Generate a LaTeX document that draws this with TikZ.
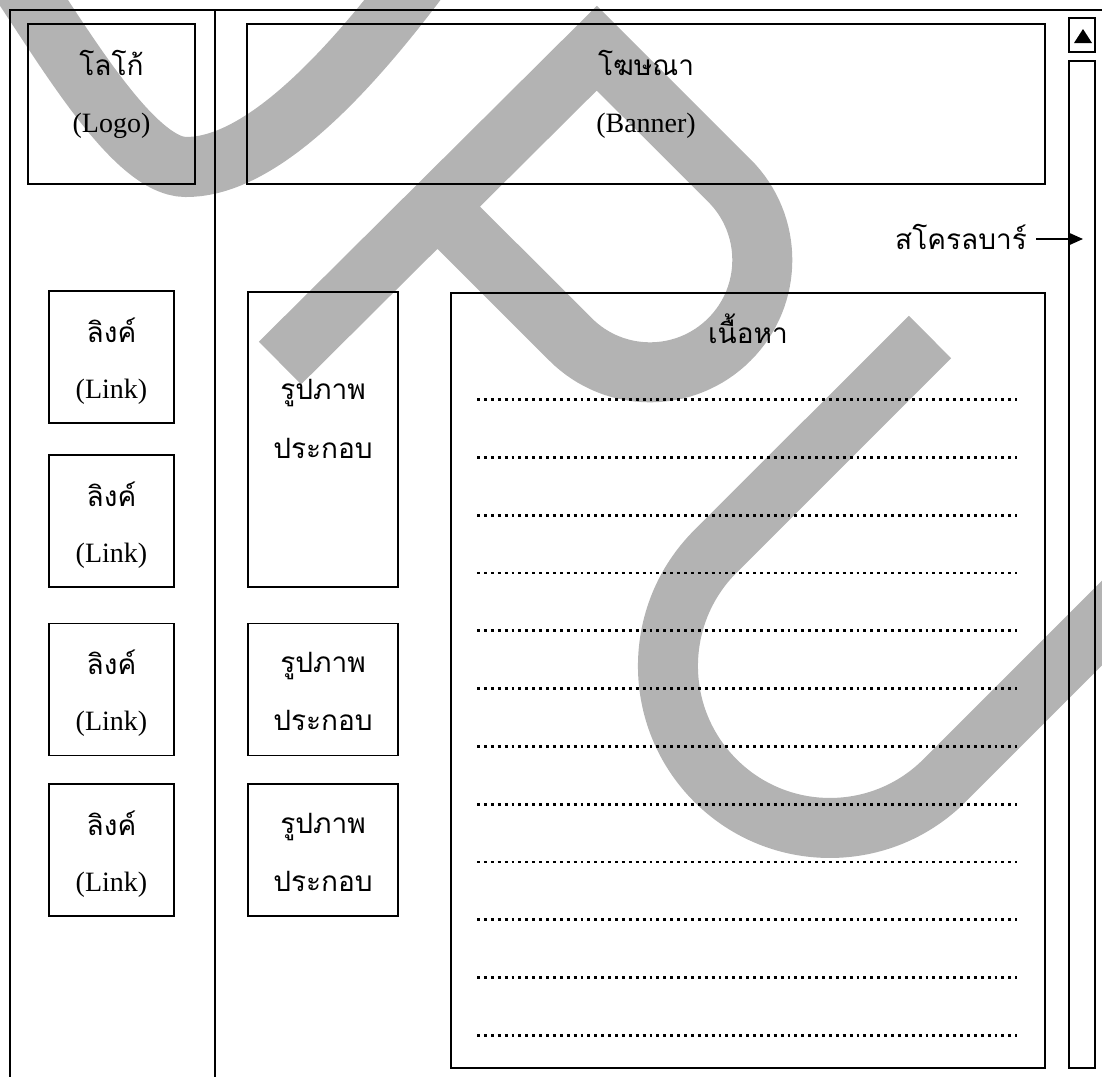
\documentclass[tikz,border=0pt]{standalone}
\usepackage{fontspec}
\setmainfont{Liberation Serif}
\newfontfamily\thaifont[Script=Thai]{Loma}
\usetikzlibrary{arrows.meta}
\definecolor{wm}{RGB}{179,179,179}
\tikzset{
  box/.style={draw, line width=1.7pt, inner sep=0pt},
  frameline/.style={line width=1.7pt},
  thtext/.style={anchor=base, inner sep=0pt, font=\thaifont\fontsize{28}{34}\selectfont},
  entext/.style={anchor=base, inner sep=0pt, font=\fontsize{28}{34}\selectfont},
  dotline/.style={line width=2.9pt, line cap=butt, dash pattern=on 2.9pt off 4pt},
  wmstroke/.style={draw=wm, line width=60pt, line cap=butt, line join=miter}
}
\begin{document}
\begin{tikzpicture}[x=1pt,y=-1pt]
\useasboundingbox (0,0) rectangle (1102,1077);
% watermark (SPU)
\draw[wmstroke] (5,-40) .. controls (55,30) and (130,167) .. (186,167) .. controls (245,167) and (325,110) .. (440,-50);
\draw[wmstroke] (280,363) -- (596.8,48.2) -- (729.4,180.6) arc[start angle=-45,end angle=135,radius=112.3] -- (438,207);
\draw[wmstroke] (930,337) -- (715.4,551.4) arc[start angle=225,end angle=45,radius=162] -- (1180,545);
% page frame
\coordinate (ftl) at (10,10);
\coordinate (ftr) at (1102,10);
\coordinate (fbl) at (10,1077);
\coordinate (dtop) at (215,10);
\coordinate (dbot) at (215,1077);
\draw[frameline] (ftr) -- (ftl) -- (fbl);
\draw[frameline] (dtop) -- (dbot);
% boxes
\node[box, minimum width=167pt, minimum height=160pt] (logo) at (111.5,104) {};
\node[box, minimum width=798pt, minimum height=160pt] (banner) at (646,104) {};
\node[box, minimum width=125pt, minimum height=132pt] (link1) at (111.5,357) {};
\node[box, minimum width=125pt, minimum height=132pt] (link2) at (111.5,521) {};
\node[box, minimum width=125pt, minimum height=132pt] (link3) at (111.5,689.5) {};
\node[box, minimum width=125pt, minimum height=132pt] (link4) at (111.5,850) {};
\node[box, minimum width=150pt, minimum height=295pt] (img1) at (323,439.5) {};
\node[box, minimum width=150pt, minimum height=132pt] (img2) at (323,689.5) {};
\node[box, minimum width=150pt, minimum height=132pt] (img3) at (323,850) {};
\node[box, minimum width=594pt, minimum height=775pt] (content) at (748,680.5) {};
\node[box, minimum width=26pt, minimum height=34pt] (scrollup) at (1082,35) {};
\node[box, minimum width=26pt, minimum height=1007pt] (track) at (1082,564.5) {};
\fill (1074,43) -- (1092,43) -- (1083,29) -- cycle;
% texts
\node[thtext] (logoT) at (111.5,75) {โลโก้};
\node[entext] (logoE) at (111.5,132) {(Logo)};
\node[thtext] (banT) at (646,75) {โฆษณา};
\node[entext] (banE) at (646,132) {(Banner)};
\foreach \n/\t in {1/291,2/455,3/623.5,4/784}{
  \node[thtext] (link\n T) at (111.5,\t+51) {ลิงค์};
  \node[entext] (link\n E) at (111.5,\t+107) {(Link)};
}
\node[thtext] (img1a) at (323,399) {รูปภาพ};
\node[thtext] (img1b) at (323,458) {ประกอบ};
\node[thtext] (img2a) at (323,672.5) {รูปภาพ};
\node[thtext] (img2b) at (323,730.5) {ประกอบ};
\node[thtext] (img3a) at (323,833) {รูปภาพ};
\node[thtext] (img3b) at (323,891) {ประกอบ};
\node[thtext] (contT) at (748,343) {เนื้อหา};
% dotted content lines
\foreach \k in {0,...,11}{
  \draw[dotline] (477,399.6+57.8*\k) -- (1017,399.6+57.8*\k);
}
% scrollbar label and arrow
\node[thtext, anchor=base east] (scrlbl) at (1027,249) {สโครลบาร์};
\coordinate (arrS) at (1036,239);
\coordinate (arrE) at (1083,239);
\draw[line width=1.7pt, -{Triangle[length=15pt,width=13pt]}] (arrS) -- (arrE);
\end{tikzpicture}
\end{document}
